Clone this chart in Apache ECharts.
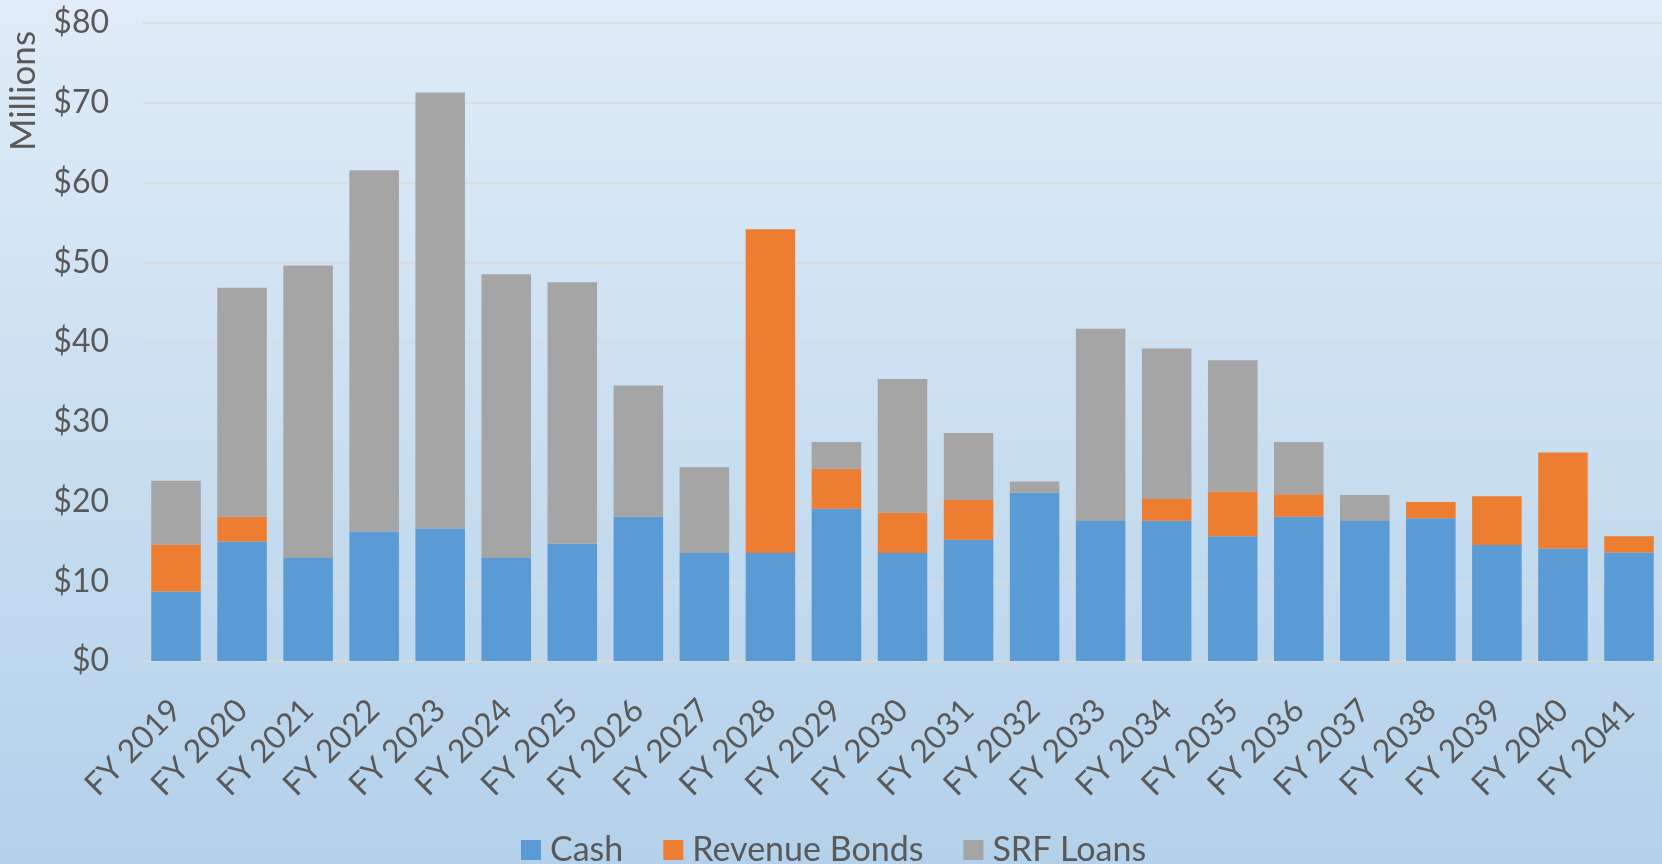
<!DOCTYPE html>
<html>
<head>
<meta charset="utf-8">
<script src="https://cdn.jsdelivr.net/npm/echarts@6/dist/echarts.min.js"></script>
<style>
html,body{margin:0;padding:0;width:1662px;height:864px;overflow:hidden;}
#chart{width:1662px;height:864px;}
</style>
</head>
<body>
<div id="chart"></div>
<script>
const categories = ['FY 2019','FY 2020','FY 2021','FY 2022','FY 2023','FY 2024','FY 2025','FY 2026','FY 2027','FY 2028','FY 2029','FY 2030','FY 2031','FY 2032','FY 2033','FY 2034','FY 2035','FY 2036','FY 2037','FY 2038','FY 2039','FY 2040','FY 2041'];
const cash =          [8.7, 15.0, 12.9, 16.25, 16.6, 12.9, 14.7, 18.1, 13.55, 13.55, 19.1, 13.55, 15.2, 21.1, 17.55, 17.6, 15.65, 18.1, 17.55, 17.9, 14.55, 14.1, 13.6];
const revenueBonds =  [5.9, 3.1, 0, 0, 0, 0, 0, 0, 0, 40.6, 5.0, 5.05, 5.0, 0, 0, 2.7, 5.6, 2.8, 0, 2.05, 6.1, 12.05, 2.05];
const srfLoans =      [8.0, 28.7, 36.7, 45.3, 54.7, 35.6, 32.8, 16.45, 10.75, 0, 3.35, 16.75, 8.4, 1.4, 24.1, 18.9, 16.45, 6.55, 3.25, 0, 0, 0, 0];
const yTicks = [0, 10, 20, 30, 40, 50, 60, 70, 80];
const seriesNames = ['Cash', 'Revenue Bonds', 'SRF Loans'];

const textColor = '#595959';
const font = 'Lato';
const chart = echarts.init(document.getElementById('chart'), null, {renderer: 'canvas'});
chart.setOption({
  animation: false,
  backgroundColor: new echarts.graphic.LinearGradient(0, 0, 0, 1, [
    {offset: 0, color: '#e0ecf7'},
    {offset: 1, color: '#b3d1ea'}
  ]),
  textStyle: {fontFamily: font, color: textColor},
  grid: {left: 143, top: 23, width: 1522, height: 638, containLabel: false},
  legend: {
    data: seriesNames,
    left: 521,
    top: 833,
    padding: 0,
    itemWidth: 20,
    itemHeight: 20,
    itemGap: 40,
    icon: 'rect',
    textStyle: {fontFamily: font, fontSize: 34, color: textColor, padding: [0, 0, 0, 4], lineHeight: 34}
  },
  xAxis: {
    type: 'category',
    data: categories,
    axisTick: {show: false},
    axisLine: {lineStyle: {color: '#d9d9d9', width: 2}},
    axisLabel: {rotate: 45, margin: 44, fontFamily: font, fontSize: 32, color: textColor, interval: 0}
  },
  yAxis: {
    type: 'value',
    min: yTicks[0],
    max: yTicks[yTicks.length - 1],
    interval: 10,
    axisLine: {show: false},
    axisTick: {show: false},
    splitLine: {lineStyle: {color: '#d9d9d9', width: 1.5}},
    axisLabel: {margin: 34, fontFamily: font, fontSize: 32, color: textColor, formatter: v => '$' + v}
  },
  graphic: [{
    type: 'text',
    x: 24,
    y: 91,
    rotation: Math.PI / 2,
    style: {text: 'Millions', fontFamily: font, fontSize: 35, fill: textColor, align: 'center', verticalAlign: 'middle'}
  }],
  series: [
    {name: seriesNames[0], type: 'bar', stack: 'total', data: cash, barCategoryGap: '25%', itemStyle: {color: '#5b9bd5'}},
    {name: seriesNames[1], type: 'bar', stack: 'total', data: revenueBonds, itemStyle: {color: '#ed7d31'}},
    {name: seriesNames[2], type: 'bar', stack: 'total', data: srfLoans, itemStyle: {color: '#a5a5a5'}}
  ]
});
</script>
</body>
</html>
